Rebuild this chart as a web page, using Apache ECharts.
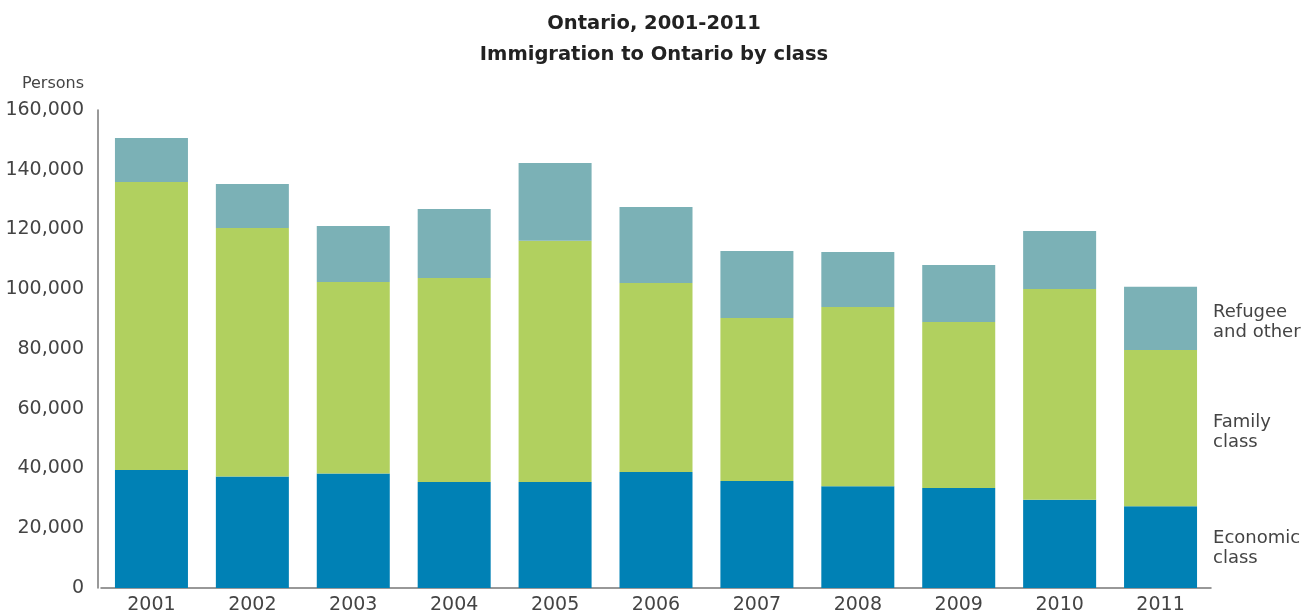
<!DOCTYPE html>
<html>
<head>
<meta charset="utf-8">
<script src="https://cdn.jsdelivr.net/npm/echarts@6/dist/echarts.min.js"></script>
<style>
  html, body { margin: 0; padding: 0; background: #fff; overflow: hidden; }
  #chart { width: 1308px; height: 611px; }
</style>
</head>
<body>
<div id="chart"></div>
<script>
// Immigration to Ontario by class, persons per year
const years = ['2001', '2002', '2003', '2004', '2005', '2006', '2007', '2008', '2009', '2010', '2011'];
const economic = [39500, 37300, 38300, 35500, 35500, 38800, 35800, 34100, 33500, 29500, 27400];
const family = [96400, 83200, 64100, 68300, 80700, 63300, 54600, 60000, 55500, 70600, 52300];
const refugee = [14700, 14700, 18800, 23100, 26100, 25400, 22400, 18400, 19100, 19400, 21100];
const seriesNames = ['Economic\nclass', 'Family\nclass', 'Refugee\nand other'];
const yTicks = [0, 20000, 40000, 60000, 80000, 100000, 120000, 140000, 160000];

const FONT = '"DejaVu Sans", "Liberation Sans", sans-serif';
const colors = ['#0081b5', '#b1d05f', '#7bb1b6'];

// Name label drawn beside the last bar's segment only
function endLabel(name, dy) {
  return {
    show: true,
    position: 'right',
    distance: 16,
    offset: [0, dy],
    align: 'left',
    color: '#444',
    fontFamily: FONT,
    fontSize: 18,
    lineHeight: 20,
    formatter: (p) => p.dataIndex === years.length - 1 ? name : ''
  };
}

function makeSeries(name, values, color, dy) {
  return {
    name: name,
    type: 'bar',
    stack: 'total',
    barWidth: 73,
    itemStyle: { color: color },
    label: endLabel(name, dy),
    emphasis: { disabled: true },
    data: values
  };
}

const chart = echarts.init(document.getElementById('chart'), null, { renderer: 'canvas' });
chart.setOption({
  animation: false,
  backgroundColor: '#fff',
  title: {
    text: 'Ontario, 2001-2011\nImmigration to Ontario by class',
    left: 'center',
    top: 3,
    textStyle: {
      fontFamily: FONT,
      fontSize: 19.5,
      fontWeight: 'bold',
      color: '#222',
      lineHeight: 31
    }
  },
  // fixed plot rectangle; labels may run to the canvas edge
  grid: { left: 101, right: 97, top: 110, bottom: 23, containLabel: false, outerBoundsMode: 'none' },
  xAxis: {
    type: 'category',
    data: years,
    axisLine: { show: true, lineStyle: { color: '#777', width: 1.5 } },
    axisTick: { show: false },
    axisLabel: {
      color: '#444',
      fontFamily: FONT,
      fontSize: 19,
      margin: 8
    }
  },
  yAxis: {
    type: 'value',
    min: yTicks[0],
    max: yTicks[yTicks.length - 1],
    interval: yTicks[1] - yTicks[0],
    offset: 3,
    name: 'Persons',
    nameLocation: 'end',
    nameGap: 18,
    nameTextStyle: {
      color: '#444',
      fontFamily: FONT,
      fontSize: 16,
      align: 'right',
      padding: [0, 14, 0, 0]
    },
    axisLine: { show: true, lineStyle: { color: '#777', width: 1.5 } },
    axisTick: { show: false },
    splitLine: { show: false },
    axisLabel: {
      color: '#444',
      fontFamily: FONT,
      fontSize: 19,
      margin: 14,
      formatter: (v) => v.toLocaleString('en-US')
    }
  },
  series: [
    makeSeries(seriesNames[0], economic, colors[0], 1),
    makeSeries(seriesNames[1], family, colors[1], 4),
    makeSeries(seriesNames[2], refugee, colors[2], 4)
  ]
});
</script>
</body>
</html>
